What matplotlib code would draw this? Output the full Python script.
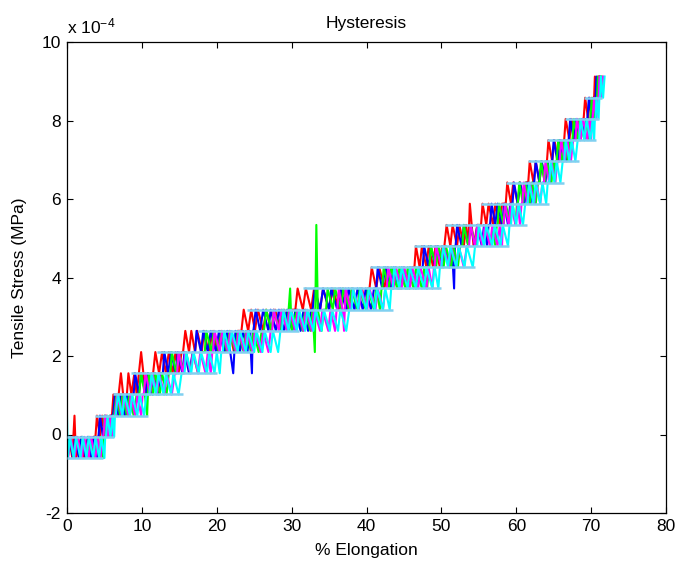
#!/usr/bin/env python3

import numpy as np
import matplotlib
matplotlib.use('Agg')
import matplotlib.pyplot as plt
from matplotlib.ticker import FuncFormatter

# quantised stress steps of the load cell, in units of 1e-4 MPa
stress_steps = [-0.60, -0.06, 0.48, 1.02, 1.56, 2.10, 2.64, 3.18, 3.72, 4.26,
                4.80, 5.34, 5.88, 6.42, 6.96, 7.50, 8.04, 8.58, 9.12]

# each cycle: elongation (%) and the stress step index at every sample
red_x = [0.0, 0.3, 0.7, 1.0, 1.2, 1.9, 2.3, 2.8, 3.1, 3.5,
         3.8, 4.0, 4.4, 4.7, 5.0, 5.3, 5.6, 5.8,
         6.0, 6.2, 6.6, 6.9, 7.2, 7.5, 7.7, 7.9,
         8.0, 8.2, 8.6, 9.0, 9.3, 9.6, 9.9, 10.2, 10.5, 10.8, 11.1, 11.3,
         11.5, 11.8, 12.3, 12.7, 13.2, 13.6, 14.1, 14.5, 14.9, 15.3,
         15.5, 15.8, 16.3, 16.6, 17.1, 17.4, 18.0, 18.3, 18.9, 19.5, 20.1, 20.6, 21.2, 21.7, 22.3, 22.8,
         23.3, 23.6, 24.2, 24.6, 25.1, 25.5, 26.2, 26.6, 27.3, 27.8, 28.5, 29.0, 29.6, 30.1,
         30.5, 30.8, 31.5, 31.9, 32.6, 33.0, 33.8, 34.2, 35.0, 35.5, 36.3, 36.8, 37.6, 38.1, 38.9, 39.4, 40.0, 40.2,
         40.4, 40.7, 41.3, 41.7, 42.4, 42.8, 43.5, 43.9, 44.6, 45.0, 45.7, 46.1,
         46.4, 46.6, 47.1, 47.4, 48.0, 48.3, 48.9, 49.2, 49.8, 50.1,
         50.4, 50.7, 51.2, 51.5, 52.1, 52.4, 53.0, 53.3, 53.6, 53.8, 54.3, 54.8,
         55.3, 55.5, 56.0, 56.3, 56.9, 57.2, 57.8, 58.1,
         58.6, 58.8, 59.3, 59.6, 60.2, 60.5, 61.0, 61.3,
         61.6, 61.8, 62.3, 62.6, 63.1, 63.4, 63.8, 64.0,
         64.1, 64.3, 64.8, 65.1, 65.6, 65.9, 66.2, 66.3,
         66.4, 66.6, 67.1, 67.4, 67.9, 68.2, 68.6, 68.8,
         69.0, 69.2, 69.6, 69.8, 70.1, 70.3,
         70.4, 70.5, 70.8, 71.0]
red_step = [0, 1, 0, 2, 0, 1, 0, 1, 0, 1,
            1, 2, 1, 2, 1, 2, 1, 2,
            2, 3, 2, 3, 4, 3, 2, 3,
            3, 4, 3, 4, 3, 4, 5, 4, 3, 4, 3, 4,
            4, 5, 4, 5, 4, 5, 4, 5, 4, 5,
            5, 6, 5, 6, 5, 6, 5, 6, 5, 6, 5, 6, 5, 6, 5, 6,
            6, 7, 6, 7, 6, 7, 6, 7, 6, 7, 6, 7, 6, 7,
            7, 8, 7, 8, 7, 8, 7, 8, 7, 8, 7, 8, 7, 8, 7, 8, 7, 8,
            8, 9, 8, 9, 8, 9, 8, 9, 8, 9, 8, 9,
            9, 10, 9, 10, 9, 10, 9, 10, 9, 10,
            10, 11, 10, 11, 10, 11, 10, 11, 10, 12, 10, 11,
            11, 12, 11, 12, 11, 12, 11, 12,
            12, 13, 12, 13, 12, 13, 12, 13,
            13, 14, 13, 14, 13, 14, 13, 14,
            14, 15, 14, 15, 14, 15, 14, 15,
            15, 16, 15, 16, 15, 16, 15, 16,
            16, 17, 16, 17, 16, 17,
            17, 18, 17, 18]

blue_x = [0.05, 0.3, 0.8, 1.1, 1.6, 1.9, 2.5, 2.8, 3.3, 3.6, 4.0, 4.1,
          4.2, 4.4, 4.8, 5.1, 5.5, 5.9,
          6.15, 6.4, 6.9, 7.2, 7.7, 8.0, 8.4, 8.7,
          8.9, 9.1, 9.6, 9.9, 10.5, 10.8, 11.4, 11.7, 12.2, 12.5,
          12.8, 13.0, 13.5, 13.9, 14.5, 14.8, 15.4, 15.7, 16.3, 16.8,
          17.1, 17.3, 17.9, 18.2, 18.8, 19.2, 19.9, 20.3, 21.0, 21.4, 22.2, 22.5, 23.1, 23.5, 24.1, 24.4, 24.7, 24.8,
          24.9, 25.2, 25.8, 26.2, 26.9, 27.2, 27.9, 28.3, 29.0, 29.4, 30.1, 30.5, 31.2, 31.6, 32.2, 32.6,
          32.8, 33.1, 33.8, 34.2, 35.0, 35.3, 36.1, 36.5, 37.3, 37.6, 38.4, 38.8, 39.5, 39.9, 40.6, 41.0,
          41.3, 41.5, 42.1, 42.5, 43.2, 43.6, 44.3, 44.7, 45.4, 45.8, 46.6, 47.0,
          47.5, 47.7, 48.3, 48.6, 49.2, 49.5, 50.2, 50.5, 51.1, 51.4, 51.7, 51.8,
          51.9, 52.1, 52.7, 53.0, 53.6, 53.9, 54.5, 54.8, 55.4, 55.7, 56.1, 56.3,
          56.5, 56.7, 57.2, 57.5, 58.1, 58.4, 58.9, 59.2,
          59.5, 59.7, 60.2, 60.5, 61.1, 61.4, 61.9, 62.2,
          62.4, 62.6, 63.1, 63.4, 63.9, 64.2, 64.5, 64.7,
          64.8, 65.0, 65.5, 65.8, 66.3, 66.5, 66.7, 66.9,
          67.0, 67.2, 67.7, 68.0, 68.5, 68.8, 69.1, 69.3,
          69.5, 69.7, 70.1, 70.4,
          70.6, 70.7, 71.0, 71.2]
blue_step = [0, 1, 0, 1, 0, 1, 0, 1, 0, 1, 0, 1,
             1, 2, 1, 2, 1, 2,
             2, 3, 2, 3, 2, 3, 2, 3,
             3, 4, 3, 4, 3, 4, 3, 4, 3, 4,
             4, 5, 4, 5, 4, 5, 4, 5, 4, 5,
             5, 6, 5, 6, 5, 6, 5, 6, 5, 6, 4, 6, 5, 6, 5, 6, 4, 6,
             6, 7, 6, 7, 6, 7, 6, 7, 6, 7, 6, 7, 6, 7, 6, 7,
             7, 8, 7, 8, 7, 8, 7, 8, 7, 8, 7, 8, 7, 8, 7, 8,
             8, 9, 8, 9, 8, 9, 8, 9, 8, 9, 8, 9,
             9, 10, 9, 10, 9, 10, 9, 10, 9, 10, 8, 10,
             10, 11, 10, 11, 10, 11, 10, 11, 10, 11, 10, 11,
             11, 12, 11, 12, 11, 12, 11, 12,
             12, 13, 12, 13, 12, 13, 12, 13,
             13, 14, 13, 14, 13, 14, 13, 14,
             14, 15, 14, 15, 14, 15, 14, 15,
             15, 16, 15, 16, 15, 16, 15, 16,
             16, 17, 16, 17,
             17, 18, 17, 18]

green_x = [0.1, 0.4, 0.9, 1.3, 1.8, 2.1, 2.7, 3.0, 3.6, 3.9, 4.3, 4.5,
           4.6, 4.8, 5.0, 5.4, 5.7, 6.0, 6.2,
           6.3, 6.6, 7.1, 7.4, 8.0, 8.3, 8.9, 9.3,
           9.65, 9.9, 10.4, 10.7, 10.9, 11.5, 11.8, 12.4, 12.7, 13.3, 13.6,
           13.8, 14.0, 14.6, 14.9, 15.6, 15.9, 16.5, 16.8, 17.5, 17.9,
           18.4, 18.6, 19.3, 19.6, 20.3, 20.6, 21.4, 21.7, 22.5, 22.8, 23.6, 23.9, 24.6, 24.9, 25.6, 26.0,
           26.3, 26.6, 27.3, 27.6, 28.4, 28.7, 29.4, 29.8, 30.0, 30.7, 31.5, 31.8, 32.5, 32.8, 33.1, 33.3, 33.5, 34.0, 34.3,
           34.6, 34.8, 35.5, 35.8, 36.6, 36.9, 37.7, 38.0, 38.8, 39.1, 39.9, 40.2, 41.0, 41.3, 41.8, 42.0,
           42.1, 42.3, 43.0, 43.3, 44.1, 44.4, 45.2, 45.5, 46.3, 46.6, 47.4, 47.7, 48.1, 48.3,
           48.4, 48.6, 49.3, 49.6, 50.3, 50.6, 51.3, 51.6, 52.2, 52.5,
           52.8, 53.0, 53.6, 53.9, 54.6, 54.9, 55.6, 55.9, 56.6, 56.9, 57.2, 57.4,
           57.5, 57.7, 58.3, 58.6, 59.2, 59.5, 59.9, 60.1,
           60.2, 60.4, 60.9, 61.2, 61.8, 62.1, 62.6, 62.9,
           63.1, 63.3, 63.8, 64.1, 64.7, 65.0, 65.2, 65.3,
           65.4, 65.6, 66.1, 66.4, 66.9, 67.2,
           67.5, 67.7, 68.2, 68.5, 69.1, 69.4, 69.7, 69.8,
           69.9, 70.1, 70.4, 70.7,
           70.8, 70.9, 71.2, 71.4]
green_step = [0, 1, 0, 1, 0, 1, 0, 1, 0, 1, 0, 1,
              1, 0, 2, 1, 2, 1, 2,
              2, 3, 2, 3, 2, 3, 2, 3,
              3, 4, 3, 2, 4, 3, 4, 3, 4, 3, 4,
              4, 5, 4, 5, 4, 5, 4, 5, 4, 5,
              5, 6, 5, 6, 5, 6, 5, 6, 5, 6, 5, 6, 5, 6, 5, 6,
              6, 7, 6, 7, 6, 7, 6, 8, 6, 7, 6, 7, 6, 7, 5, 11, 7, 6, 7,
              7, 8, 7, 8, 7, 8, 7, 8, 7, 8, 7, 8, 7, 8, 7, 8,
              8, 9, 8, 9, 8, 9, 8, 9, 8, 9, 8, 9, 8, 9,
              9, 10, 9, 10, 9, 10, 9, 10, 9, 10,
              10, 11, 10, 11, 10, 11, 10, 11, 10, 11, 10, 11,
              11, 12, 11, 12, 11, 12, 11, 12,
              12, 13, 12, 13, 12, 13, 12, 13,
              13, 14, 13, 14, 13, 14, 13, 14,
              14, 15, 14, 15, 14, 15,
              15, 16, 15, 16, 15, 16, 15, 16,
              16, 17, 16, 17,
              17, 18, 17, 18]

magenta_x = [0.15, 0.5, 1.0, 1.4, 2.0, 2.3, 2.9, 3.2, 3.8, 4.1, 4.5, 4.7,
             4.85, 5.1, 5.5, 5.8, 6.1, 6.3,
             6.4, 6.7, 7.3, 7.6, 8.2, 8.5, 9.1, 9.4, 9.9, 10.1,
             10.25, 10.5, 11.1, 11.4, 12.0, 12.3, 13.0, 13.3, 14.0, 14.4,
             14.7, 14.9, 15.5, 15.8, 16.5, 16.8, 17.5, 17.8, 18.5, 18.8, 19.2, 19.4,
             19.5, 19.7, 20.4, 20.7, 21.5, 21.8, 22.6, 22.9, 23.7, 24.0, 24.8, 25.1, 25.9, 26.2, 26.9, 27.2,
             27.4, 27.6, 28.3, 28.6, 29.4, 29.7, 30.5, 30.8, 31.6, 31.9, 32.7, 33.0, 33.8, 34.1, 34.9, 35.2, 35.8, 36.0,
             36.1, 36.3, 36.8, 37.0, 37.2, 37.9, 38.2, 39.0, 39.3, 40.1, 40.4, 41.2, 41.5, 42.2, 42.5,
             42.7, 42.9, 43.6, 43.9, 44.7, 45.0, 45.8, 46.1, 46.9, 47.2, 48.0, 48.3, 48.8, 49.0,
             49.1, 49.3, 50.0, 50.3, 51.0, 51.3, 52.0, 52.3, 53.0, 53.4,
             53.7, 53.9, 54.5, 54.8, 55.5, 55.8, 56.5, 56.8, 57.5, 57.8, 58.1, 58.2,
             58.3, 58.5, 59.0, 59.3, 59.9, 60.2, 60.5, 60.7,
             60.8, 61.0, 61.5, 61.8, 62.4, 62.7, 63.2, 63.5,
             63.7, 63.9, 64.4, 64.7, 65.2, 65.5,
             65.8, 66.0, 66.5, 66.8, 67.3, 67.6,
             67.9, 68.1, 68.6, 68.9, 69.5, 69.8, 70.0, 70.1,
             70.2, 70.4, 70.7, 70.9,
             71.0, 71.1, 71.4, 71.6]
magenta_step = [0, 1, 0, 1, 0, 1, 0, 1, 0, 1, 0, 1,
                1, 2, 1, 2, 1, 2,
                2, 3, 2, 3, 2, 3, 2, 3, 2, 3,
                3, 4, 3, 4, 3, 4, 3, 4, 3, 4,
                4, 5, 4, 5, 4, 5, 4, 5, 4, 5, 4, 5,
                5, 6, 5, 6, 5, 6, 5, 6, 5, 6, 5, 6, 5, 6, 5, 6,
                6, 7, 6, 7, 6, 7, 6, 7, 6, 7, 6, 7, 6, 7, 6, 7, 6, 7,
                7, 8, 7, 6, 8, 7, 8, 7, 8, 7, 8, 7, 8, 7, 8,
                8, 9, 8, 9, 8, 9, 8, 9, 8, 9, 8, 9, 8, 9,
                9, 10, 9, 10, 9, 10, 9, 10, 9, 10,
                10, 11, 10, 11, 10, 11, 10, 11, 10, 11, 10, 11,
                11, 12, 11, 12, 11, 12, 11, 12,
                12, 13, 12, 13, 12, 13, 12, 13,
                13, 14, 13, 14, 13, 14,
                14, 15, 14, 15, 14, 15,
                15, 16, 15, 16, 15, 16, 15, 16,
                16, 17, 16, 17,
                17, 18, 17, 18]

cyan_x = [0.0, 0.1, 0.4, 0.9, 1.2, 1.8, 2.1, 2.6, 2.9, 3.5, 3.8, 4.3, 4.6, 5.0, 5.1,
          5.2, 5.4, 5.8, 6.1, 6.3, 6.4,
          6.5, 6.8, 7.4, 7.7, 8.4, 8.7, 9.4, 9.7, 10.3, 10.6,
          11.0, 11.3, 11.9, 12.2, 12.9, 13.2, 13.9, 14.2, 14.9, 15.3,
          15.7, 15.9, 16.6, 16.9, 17.6, 17.9, 18.7, 19.0, 19.7, 20.0, 20.4, 20.6,
          20.8, 21.0, 21.7, 22.0, 22.8, 23.1, 23.9, 24.2, 25.0, 25.3, 26.1, 26.4, 27.2, 27.5, 28.2, 28.5,
          28.7, 28.9, 29.6, 29.9, 30.7, 31.0, 31.8, 32.1, 32.9, 33.2, 34.0, 34.3, 35.1, 35.4, 36.2, 36.5, 37.3, 37.7,
          38.0, 38.2, 38.9, 39.2, 40.0, 40.3, 41.1, 41.4, 42.2, 42.5, 43.1, 43.3,
          43.5, 43.7, 44.4, 44.7, 45.5, 45.8, 46.6, 46.9, 47.7, 48.0, 48.8, 49.1, 49.6, 49.8,
          50.0, 50.2, 50.9, 51.2, 52.0, 52.3, 53.1, 53.4, 54.2, 54.5,
          54.8, 55.0, 55.7, 56.0, 56.8, 57.1, 57.9, 58.2, 58.9, 59.1,
          59.3, 59.5, 60.0, 60.3, 60.9, 61.2,
          61.5, 61.7, 62.3, 62.6, 63.2, 63.5, 64.0, 64.2,
          64.4, 64.6, 65.1, 65.4, 65.9, 66.2,
          66.4, 66.6, 67.1, 67.4, 67.9, 68.2,
          68.4, 68.6, 69.1, 69.4, 69.9, 70.2, 70.4, 70.5,
          70.6, 70.7, 71.0, 71.1,
          71.2, 71.3, 71.6, 71.8]
cyan_step = [2, 0, 1, 0, 1, 0, 1, 0, 1, 0, 1, 0, 1, 0, 1,
             1, 2, 1, 2, 1, 2,
             2, 3, 2, 3, 2, 3, 2, 3, 2, 3,
             3, 4, 3, 4, 3, 4, 3, 4, 3, 4,
             4, 5, 4, 5, 4, 5, 4, 5, 4, 5, 4, 5,
             5, 6, 5, 6, 5, 6, 5, 6, 5, 6, 5, 6, 5, 6, 5, 6,
             6, 7, 6, 7, 6, 7, 6, 7, 6, 7, 6, 7, 6, 7, 6, 7, 6, 7,
             7, 8, 7, 8, 7, 8, 7, 8, 7, 8, 7, 8,
             8, 9, 8, 9, 8, 9, 8, 9, 8, 9, 8, 9, 8, 9,
             9, 10, 9, 10, 9, 10, 9, 10, 9, 10,
             10, 11, 10, 11, 10, 11, 10, 11, 10, 11,
             11, 12, 11, 12, 11, 12,
             12, 13, 12, 13, 12, 13, 12, 13,
             13, 14, 13, 14, 13, 14,
             14, 15, 14, 15, 14, 15,
             15, 16, 15, 16, 15, 16, 15, 16,
             16, 17, 16, 17,
             17, 18, 17, 18]

# dwell plateaus: step index and elongation range where the stress holds
plateau_step = [0, 1, 2, 3, 4, 5, 6, 7, 8, 9, 10, 11, 12, 13, 14, 15, 16, 17]
plateau_start = [0.0, 0.0, 3.8, 6.2, 8.5, 12.0, 17.5, 24.0, 31.5, 40.5,
                 46.4, 50.5, 55.3, 58.6, 61.6, 64.1, 66.5, 69.0]
plateau_end = [4.8, 6.3, 10.8, 15.5, 20.0, 24.8, 31.0, 43.5, 50.0, 54.5,
               59.0, 61.5, 64.4, 66.4, 68.4, 70.6, 71.0, 71.5]

cycles = [
    (red_x, red_step, '#ff0000'),
    (blue_x, blue_step, '#0000ff'),
    (green_x, green_step, '#00ff00'),
    (magenta_x, magenta_step, '#ff00ff'),
    (cyan_x, cyan_step, '#00ffff'),
]


def main():
    plt.rcParams.update({
        'font.family': ['Liberation Sans', 'DejaVu Sans'],
        'font.size': 12.5,
        'axes.unicode_minus': False,
        'mathtext.default': 'regular',
    })

    niveles = np.array(stress_steps) * 1e-4

    fig = plt.figure(figsize=(6.78, 5.63), dpi=100)
    ax = fig.add_axes([67 / 678, 50 / 563, 599 / 678, 471 / 563])

    for xs, steps, color in cycles:
        ax.plot(xs, niveles[steps], color=color, linewidth=1.5, zorder=2)

    ax.hlines(niveles[plateau_step], plateau_start, plateau_end,
              colors='#80d0f0', linewidth=1.8, zorder=3)

    ax.set_xlim(0, 80)
    ax.set_ylim(-2e-4, 10e-4)
    ax.set_xticks(np.arange(0, 81, 10))
    ax.set_yticks(np.arange(-2, 11, 2) * 1e-4)
    ax.yaxis.set_major_formatter(FuncFormatter(lambda v, p: '%d' % round(v * 1e4)))
    ax.tick_params(direction='in', length=4.5, width=0.8, top=True, right=True,
                   pad=4.5, labelsize=12.5)
    for spine in ax.spines.values():
        spine.set_linewidth(0.9)

    ax.text(0, 1.018, r'x 10$^{-4}$', transform=ax.transAxes, ha='left',
            va='baseline', fontsize=12.5)
    ax.set_title('Hysteresis', pad=10, fontsize=12.5)
    ax.set_xlabel('% Elongation', labelpad=6)
    ax.set_ylabel('Tensile Stress (MPa)', labelpad=10)

    fig.savefig('out.png', dpi=100)


if __name__ == "__main__":
    main()
